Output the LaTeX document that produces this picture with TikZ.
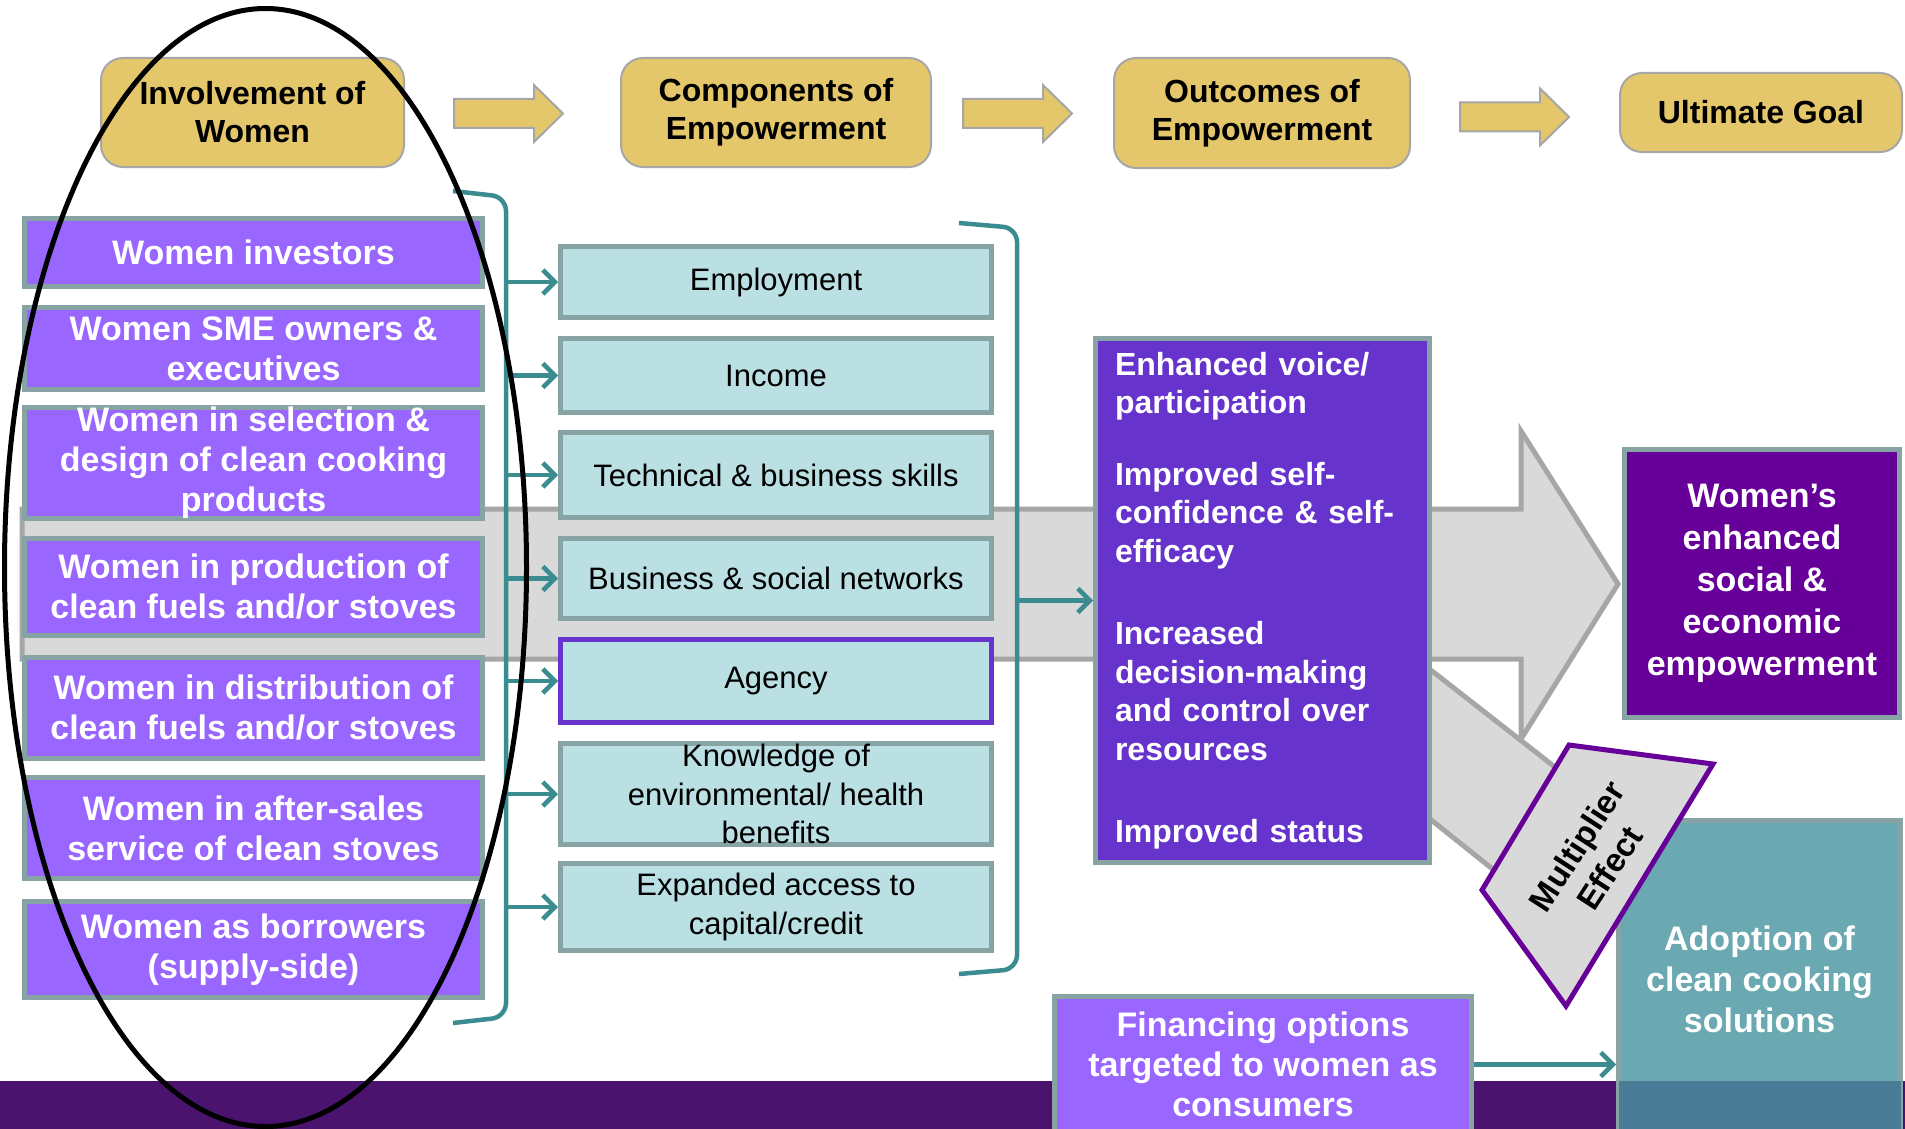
\documentclass[tikz,border=0pt]{standalone}
\usepackage{fontspec}
\setmainfont{Liberation Sans}
\usetikzlibrary{arrows.meta}

\definecolor{gold}{RGB}{229,199,107}
\definecolor{edgegrey}{RGB}{166,166,166}
\definecolor{boxedge}{RGB}{135,163,163}
\definecolor{lilac}{RGB}{153,102,255}
\definecolor{paleteal}{RGB}{186,224,227}
\definecolor{royalpurple}{RGB}{102,51,204}
\definecolor{deeppurple}{RGB}{102,0,153}
\definecolor{midteal}{RGB}{106,169,177}
\definecolor{linkteal}{RGB}{58,140,145}
\definecolor{arrowgrey}{RGB}{217,217,217}
\definecolor{footer}{RGB}{74,20,110}
\definecolor{footerteal}{RGB}{72,124,151}

\tikzset{
  headbox/.style={draw=edgegrey,line width=2pt,fill=gold,rounded corners=22pt,align=center,
    inner sep=0pt,font=\bfseries\fontsize{32}{38}\selectfont},
  goldarrow/.style={draw=edgegrey,line width=2pt,fill=gold},
  womanbox/.style={draw=boxedge,line width=5pt,fill=lilac,text=white,align=center,inner sep=0pt,
    minimum width=458pt,font=\bfseries\fontsize{34}{40}\selectfont},
  compbox/.style={draw=boxedge,line width=5pt,fill=paleteal,align=center,inner sep=0pt,
    minimum width=431pt,font=\fontsize{31}{38.5}\selectfont},
  agencybox/.style={compbox,draw=royalpurple},
  outcomebox/.style={draw=boxedge,line width=5pt,fill=royalpurple,text=white,align=left,
    inner xsep=19.5pt,inner ysep=0pt,font=\bfseries\fontsize{32}{38.5}\selectfont},
  goalbox/.style={draw=boxedge,line width=5pt,fill=deeppurple,text=white,align=center,inner sep=0pt,
    font=\bfseries\fontsize{34}{42}\selectfont},
  adoptbox/.style={draw=boxedge,line width=5pt,fill=midteal,text=white,align=center,inner sep=0pt,
    font=\bfseries\fontsize{34}{41}\selectfont},
  bigarrow/.style={draw=edgegrey,line width=5pt,fill=arrowgrey},
  bracket/.style={draw=linkteal,line width=4.5pt,rounded corners=14pt},
  link/.style={draw=linkteal,line width=4.5pt,-{Straight Barb[length=12pt,width=24pt]}},
}

\begin{document}
\begin{tikzpicture}[x=1pt,y=-1pt]
\useasboundingbox[fill=white] (0,0) rectangle (1905,1129);

% purple strip along the bottom
\fill[footer] (0,1081) rectangle (1905,1129);

% grey arrows in the background
\draw[bigarrow] (22,509) -- (1521,509) -- (1521,431) -- (1618,584) -- (1521,739) -- (1521,659) -- (22,659) -- cycle;
\draw[bigarrow] (1400,646) -- (1560,771) -- (1500,875) -- (1400,795) -- cycle;

% column heads
\node[headbox,minimum width=303pt,minimum height=109pt] (h1) at (252.5,112.5) {Involvement of\\Women};
\node[headbox,minimum width=310pt,minimum height=109pt] (h2) at (776,112.5) {Components of\\Empowerment};
\node[headbox,minimum width=296pt,minimum height=110pt] (h3) at (1262,113) {Outcomes of\\Empowerment};
\node[headbox,minimum width=282pt,minimum height=79pt] (h4) at (1761,112.5) {Ultimate Goal};
\foreach \x/\y in {454/113.5,963/113.5,1460/117}
  \draw[goldarrow] (\x,\y-14.5) -- ++(80,0) -- ++(0,-14) -- ++(29,28.5) -- ++(-29,28.5) -- ++(0,-14) -- ++(-80,0) -- cycle;

% involvement of women
\foreach \i/\yc/\h/\txt in {1/252.5/68/{Women investors},
    2/348.5/82/{Women SME owners \&\\executives},
    3/463/107/{Women in selection \&\\design of clean cooking\\products},
    4/587/97/{Women in production of\\clean fuels and/or stoves},
    5/708/101/{Women in distribution of\\clean fuels and/or stoves},
    6/828/101/{Women in after-sales\\service of clean stoves},
    7/949.5/96/{Women as borrowers\\(supply-side)}}
  \node[womanbox,minimum height=\h pt] (w\i) at (253.5,\yc) {\txt};

% components of empowerment
\foreach \i/\yc/\h/\sty/\txt in {1/282/71/compbox/{Employment},
    2/375.5/74/compbox/{Income},
    3/475/85/compbox/{Technical \& business skills},
    4/578.5/80/compbox/{Business \& social networks},
    5/681/83/agencybox/{Agency},
    6/794/101/compbox/{Knowledge of\\environmental/ health\\benefits},
    7/907/87/compbox/{Expanded access to\\capital/credit}}
  \node[\sty,minimum height=\h pt] (m\i) at (776,\yc) {\txt};

% outcomes and goal
\node[outcomebox,minimum width=334pt,minimum height=524pt,text width=295pt] (outc) at (1262.5,600.5)
  {Enhanced voice/\\participation\\[33pt]Improved self-\\confidence \& self-\\efficacy\\[44pt]Increased\\decision-making\\and control over\\resources\\[44pt]Improved status};
\node[goalbox,minimum width=275pt,minimum height=268pt] (goal) at (1762,583.5)
  {Women’s\\enhanced\\social \&\\economic\\empowerment};

% adoption, multiplier and financing
\node[adoptbox,minimum width=282pt,minimum height=317pt] (adopt) at (1759.5,979)
  {Adoption of\\clean cooking\\solutions};
\fill[footerteal] (1618.5,1081) rectangle (1900.5,1129);
\draw[draw=deeppurple,line width=5pt,fill=arrowgrey] (1569,745) -- (1713,764) -- (1566,1006) -- (1482,890) -- cycle;
\node[rotate=57,align=center,inner sep=0pt,font=\bfseries\fontsize{33}{40}\selectfont] (mult) at (1593,857) {Multiplier\\Effect};
\node[womanbox,minimum width=417pt,minimum height=136pt] (fin) at (1263,1064.5)
  {Financing options\\targeted to women as\\consumers};
\draw[link] (fin.east) -- (fin.east -| adopt.west);

% brackets gathering the columns
\coordinate (lbr) at (506,600);
\coordinate (rbr) at (1017,600);
\draw[bracket] (453,191) -- (506,197) -- (506,1017) -- (453,1023);
\foreach \i in {1,...,7}
  \draw[link] (lbr |- m\i.west) -- (m\i.west);
\draw[bracket] (959,223) -- (1017,228) -- (1017,969) -- (959,974);
\draw[link] (rbr |- outc.west) -- (outc.west);

% ring round the first column
\draw[line width=5pt] (265.5,567.5) ellipse [x radius=261,y radius=559];
\end{tikzpicture}
\end{document}
